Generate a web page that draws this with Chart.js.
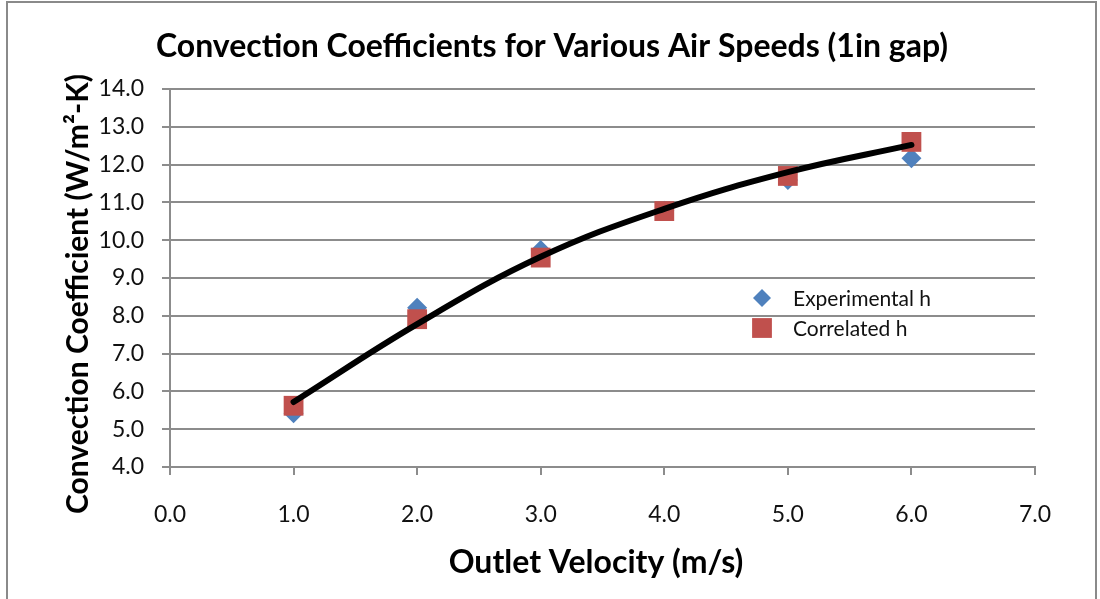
<!DOCTYPE html>
<html>
<head>
<meta charset="utf-8">
<script src="https://cdn.jsdelivr.net/npm/chart.js@4.4.1/dist/chart.umd.min.js"></script>
<style>
  html, body { margin: 0; padding: 0; background: #fff; }
  #wrap { position: relative; width: 1100px; height: 599px; overflow: hidden; }
  #frame { position: absolute; left: 6px; top: 1px; width: 1091px; height: 640px;
           border: 2px solid #8a8a8a; box-sizing: border-box; pointer-events: none; }
  canvas { position: absolute; left: 0; top: 0; }
</style>
</head>
<body>
<div id="wrap">
  <canvas id="chart" width="1100" height="599"></canvas>
  <div id="frame"></div>
</div>
<script>
// Outlet velocity (m/s)
const velocity = [1, 2, 3, 4, 5, 6];
// Measured convection coefficient (W/m²-K)
const experimentalH = [5.42, 8.21, 9.74, 10.78, 11.59, 12.17];
// Correlation prediction (W/m²-K)
const correlatedH = [5.62, 7.91, 9.54, 10.77, 11.70, 12.60];
// Trend curve through the points
const trendH = [5.72, 7.78, 9.56, 10.83, 11.80, 12.52];

const titleText = 'Convection Coefficients for Various Air Speeds (1in gap)';
const xTitle = 'Outlet Velocity (m/s)';
const yTitle = 'Convection Coefficient (W/m²-K)';
const seriesNames = ['Experimental h', 'Correlated h'];

const FONT = 'Lato, "Open Sans", sans-serif';
const GRID = '#8c8c8c';

const toXY = (ys) => velocity.map((x, i) => ({ x, y: ys[i] }));

// Chart and axis titles, centred on the whole canvas rather than the plot area
const titles = {
  id: 'titles',
  afterDraw(chart) {
    const { ctx, width, height } = chart;
    ctx.save();
    ctx.fillStyle = '#000';
    ctx.textAlign = 'center';
    ctx.textBaseline = 'middle';
    ctx.font = 'bold 32px ' + FONT;
    ctx.fillText(titleText, width / 2 + 2, 47);
    ctx.font = 'bold 32px ' + FONT;
    ctx.fillText(xTitle, 596, 563);
    ctx.translate(78, 294);
    ctx.rotate(-Math.PI / 2);
    ctx.font = 'bold 30px ' + FONT;
    ctx.fillText(yTitle, 0, 0);
    ctx.restore();
  }
};

// Legend drawn inside the plot area, right side
const innerLegend = {
  id: 'innerLegend',
  afterDatasetsDraw(chart) {
    const { ctx } = chart;
    const items = [chart.data.datasets[0], chart.data.datasets[1]];
    const x0 = 762, y0 = 298, gap = 30;
    ctx.save();
    ctx.font = '21px ' + FONT;
    ctx.textBaseline = 'middle';
    items.forEach((ds, i) => {
      const y = y0 + i * gap;
      ctx.fillStyle = ds.backgroundColor;
      ctx.beginPath();
      if (ds.pointStyle === 'rectRot') {
        const r = ds.legendRadius;
        ctx.moveTo(x0 - r, y); ctx.lineTo(x0, y - r); ctx.lineTo(x0 + r, y); ctx.lineTo(x0, y + r);
      } else {
        const s = ds.legendRadius * Math.SQRT1_2;
        ctx.rect(x0 - s, y - s, 2 * s, 2 * s);
      }
      ctx.closePath();
      ctx.fill();
      ctx.fillStyle = '#111';
      ctx.fillText(seriesNames[i], x0 + 31, y + 1);
    });
    ctx.restore();
  }
};

new Chart(document.getElementById('chart'), {
  type: 'scatter',
  data: {
    datasets: [
      {
        label: seriesNames[0],
        data: toXY(experimentalH),
        pointStyle: 'rectRot',
        pointRadius: 10,
        legendRadius: 9,
        backgroundColor: '#4f81bd',
        borderWidth: 0,
        order: 2
      },
      {
        label: seriesNames[1],
        data: toXY(correlatedH),
        pointStyle: 'rect',
        pointRadius: 14,
        legendRadius: 14,
        backgroundColor: '#c0504d',
        borderWidth: 0,
        order: 1
      },
      {
        label: 'Trend',
        type: 'line',
        data: toXY(trendH),
        borderColor: '#000',
        borderWidth: 6,
        borderCapStyle: 'round',
        pointRadius: 0,
        tension: 0.4,
        fill: false,
        order: 0
      }
    ]
  },
  options: {
    responsive: false,
    animation: false,
    events: [],
    layout: { padding: { left: 0, right: 65, top: 89, bottom: 0 } },
    plugins: {
      legend: { display: false },
      tooltip: { enabled: false },
      title: { display: false }
    },
    scales: {
      x: {
        type: 'linear',
        min: 0, max: 7,
        ticks: {
          stepSize: 1,
          color: '#111',
          font: { family: FONT, size: 23 },
          padding: 26,
          callback: (v) => Number(v).toFixed(1)
        },
        grid: { drawOnChartArea: false, drawTicks: true, tickLength: 8, color: GRID, lineWidth: 2 },
        border: { color: GRID, width: 2 },
        afterFit: (s) => { s.height = 132; }
      },
      y: {
        type: 'linear',
        min: 4, max: 14,
        ticks: {
          stepSize: 1,
          color: '#111',
          font: { family: FONT, size: 23 },
          padding: 18,
          callback: (v) => Number(v).toFixed(1)
        },
        grid: { drawTicks: true, tickLength: 8, color: GRID, lineWidth: 2 },
        border: { color: GRID, width: 2 },
        afterFit: (s) => { s.width = 170; }
      }
    }
  },
  plugins: [innerLegend, titles]
});
</script>
</body>
</html>
